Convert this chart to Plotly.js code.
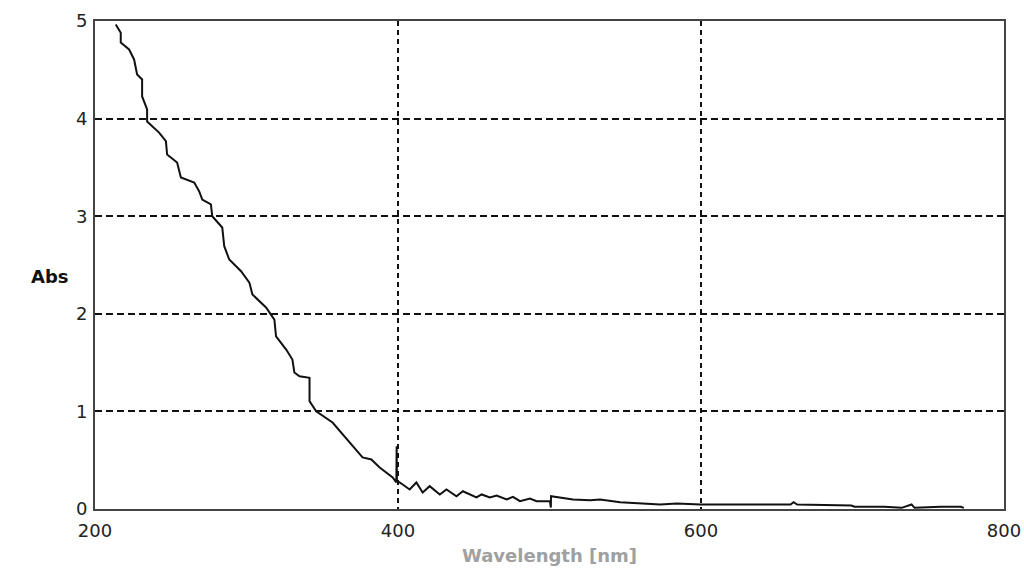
<!DOCTYPE html>
<html>
<head>
<meta charset="utf-8">
<script src="https://cdn.plot.ly/plotly-3.0.1.min.js"></script>
<style>html,body{margin:0;padding:0;background:#fff;}#chart{width:1024px;height:569px;}</style>
</head>
<body>
<div id="chart"></div>
<script>
const wavelength = [213.7, 217.0, 217.0, 222.5, 225.8, 227.8, 231.1, 231.1, 234.4, 234.4,
  242.3, 246.8, 247.6, 254.2, 256.7, 265.5, 268.8, 270.8, 276.5, 277.4,
  284.0, 285.3, 288.6, 296.4, 301.9, 303.9, 312.9, 316.2, 318.4, 319.5,
  326.2, 330.3, 331.6, 335.0, 341.6, 341.6, 346.0, 356.8, 368.0, 376.6,
  382.4, 387.9, 396.5, 398.9, 399.1, 399.3, 403.1, 407.7, 412.1, 416.3,
  420.9, 427.6, 432.0, 438.6, 442.8, 451.8, 455.2, 460.6, 465.1, 471.7,
  475.9, 480.5, 487.1, 491.5, 500.3, 500.9, 501.0, 508.9, 515.5, 526.8,
  533.4, 546.6, 568.5, 573.1, 584.1, 599.6, 659.1, 661.1, 663.5, 699.3,
  701.3, 721.1, 732.4, 739.0, 741.0, 758.3, 771.5, 773.5];
const absorbance = [4.964, 4.879, 4.780, 4.708, 4.606, 4.452, 4.401, 4.227, 4.094, 3.970,
  3.857, 3.768, 3.632, 3.550, 3.396, 3.345, 3.253, 3.171, 3.120, 3.000,
  2.884, 2.693, 2.556, 2.436, 2.320, 2.198, 2.065, 1.993, 1.941, 1.770,
  1.634, 1.532, 1.399, 1.360, 1.344, 1.105, 1.002, 0.886, 0.681, 0.528,
  0.507, 0.425, 0.323, 0.272, 0.643, 0.290, 0.251, 0.200, 0.272, 0.169,
  0.234, 0.149, 0.200, 0.131, 0.182, 0.118, 0.149, 0.118, 0.138, 0.097,
  0.125, 0.080, 0.108, 0.080, 0.080, 0.015, 0.131, 0.115, 0.097, 0.090,
  0.097, 0.070, 0.056, 0.046, 0.056, 0.046, 0.046, 0.070, 0.046, 0.036,
  0.023, 0.023, 0.012, 0.046, 0.012, 0.023, 0.023, 0.012];
const xTicks = [200, 400, 600, 800];
const yTicks = [0, 1, 2, 3, 4, 5];

const font = {family: "DejaVu Sans, Verdana, sans-serif", size: 18, color: "#222"};

Plotly.newPlot("chart", [{
  x: wavelength,
  y: absorbance,
  type: "scatter",
  mode: "lines",
  line: {color: "#111", width: 2},
  hoverinfo: "x+y"
}], {
  width: 1024,
  height: 569,
  margin: {l: 95, r: 20, t: 21, b: 60},
  paper_bgcolor: "#fff",
  plot_bgcolor: "#fff",
  showlegend: false,
  font: font,
  xaxis: {
    range: [200, 800],
    tickvals: xTicks,
    ticktext: xTicks.map(String),
    showgrid: true,
    gridcolor: "#111",
    gridwidth: 2,
    griddash: "5px,4px",
    zeroline: false,
    showline: true,
    linecolor: "#444",
    linewidth: 2,
    mirror: true,
    ticks: "",
    tickfont: font,
    ticklabelstandoff: 4,
    title: {
      text: "Wavelength [nm]",
      font: {family: "DejaVu Sans, Verdana, sans-serif", size: 18, color: "#a0a0a0", weight: "bold"},
      standoff: 10
    }
  },
  yaxis: {
    range: [0, 5],
    tickvals: yTicks,
    showgrid: true,
    gridcolor: "#111",
    gridwidth: 2,
    griddash: "7px,4px",
    zeroline: false,
    showline: true,
    linecolor: "#444",
    linewidth: 2,
    mirror: true,
    ticks: "",
    tickfont: font,
    ticklabelstandoff: 2
  },
  annotations: [{
    text: "<b>Abs</b>",
    xref: "paper", yref: "paper",
    x: -0.049, y: 0.477,
    xanchor: "center", yanchor: "middle",
    showarrow: false,
    font: {family: "DejaVu Sans, Verdana, sans-serif", size: 18, color: "#111"}
  }]
}, {displayModeBar: false, staticPlot: true});
</script>
</body>
</html>
